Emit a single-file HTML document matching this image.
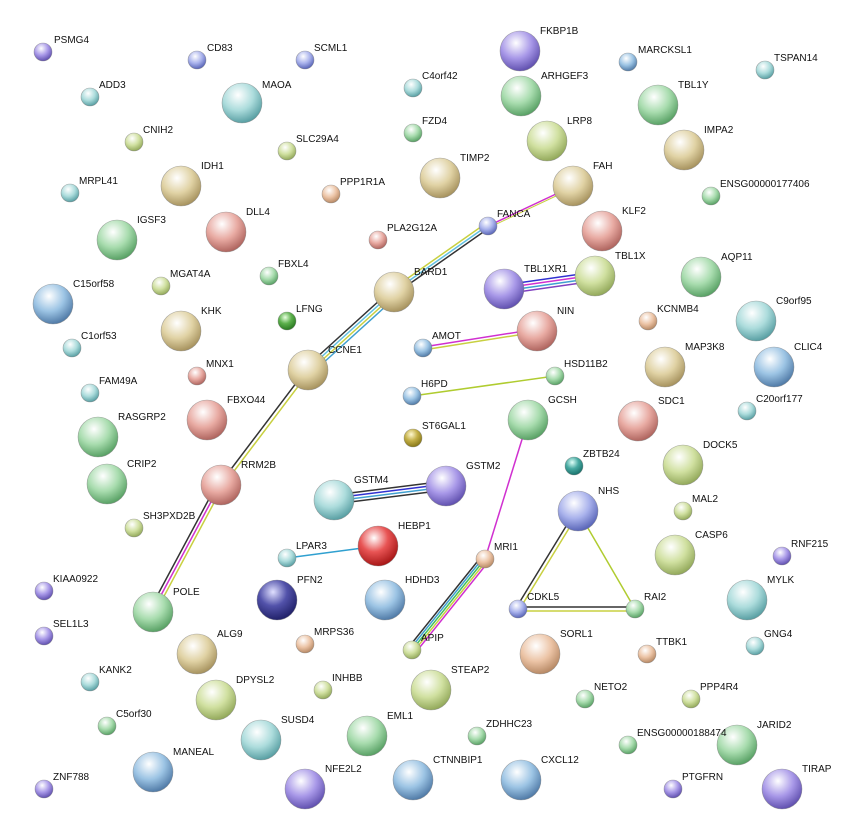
<!DOCTYPE html>
<html><head><meta charset="utf-8"><style>
html,body{margin:0;padding:0;background:#fff;}
svg{display:block;}
text{font-family:"Liberation Sans",sans-serif;font-size:10px;fill:#111;}
</style></head><body>
<svg width="852" height="835" viewBox="0 0 852 835" xmlns="http://www.w3.org/2000/svg">
<defs>
<radialGradient id="bl" cx="40%" cy="30%" r="70%"><stop offset="0" stop-color="#fff"/><stop offset="0.55" stop-color="#a9b2ec"/><stop offset="1" stop-color="#5a66b8"/></radialGradient>
<radialGradient id="gr" cx="40%" cy="30%" r="70%"><stop offset="0" stop-color="#fff"/><stop offset="0.55" stop-color="#a8dcae"/><stop offset="1" stop-color="#5aa266"/></radialGradient>
<radialGradient id="tn" cx="40%" cy="30%" r="70%"><stop offset="0" stop-color="#fff"/><stop offset="0.55" stop-color="#e0d2a4"/><stop offset="1" stop-color="#a89460"/></radialGradient>
<radialGradient id="cy" cx="40%" cy="30%" r="70%"><stop offset="0" stop-color="#fff"/><stop offset="0.55" stop-color="#acdcdc"/><stop offset="1" stop-color="#5aa0a4"/></radialGradient>
<radialGradient id="rd" cx="40%" cy="30%" r="70%"><stop offset="0" stop-color="#fff"/><stop offset="0.55" stop-color="#e8aaa2"/><stop offset="1" stop-color="#b06660"/></radialGradient>
<radialGradient id="pu" cx="40%" cy="30%" r="70%"><stop offset="0" stop-color="#fff"/><stop offset="0.55" stop-color="#a898e8"/><stop offset="1" stop-color="#6252b0"/></radialGradient>
<radialGradient id="yg" cx="40%" cy="30%" r="70%"><stop offset="0" stop-color="#fff"/><stop offset="0.55" stop-color="#d0e0a0"/><stop offset="1" stop-color="#94aa5c"/></radialGradient>
<radialGradient id="pe" cx="40%" cy="30%" r="70%"><stop offset="0" stop-color="#fff"/><stop offset="0.55" stop-color="#ecc4a6"/><stop offset="1" stop-color="#b88a66"/></radialGradient>
<radialGradient id="dg" cx="40%" cy="30%" r="70%"><stop offset="0" stop-color="#e8ffe0"/><stop offset="0.5" stop-color="#5cb04c"/><stop offset="1" stop-color="#2a7a22"/></radialGradient>
<radialGradient id="ol" cx="40%" cy="30%" r="70%"><stop offset="0" stop-color="#fff8d0"/><stop offset="0.5" stop-color="#c4b048"/><stop offset="1" stop-color="#887818"/></radialGradient>
<radialGradient id="te" cx="40%" cy="30%" r="70%"><stop offset="0" stop-color="#e0fff8"/><stop offset="0.5" stop-color="#48aaa2"/><stop offset="1" stop-color="#1a726c"/></radialGradient>
<radialGradient id="rb" cx="40%" cy="30%" r="70%"><stop offset="0" stop-color="#fff"/><stop offset="0.5" stop-color="#e85454"/><stop offset="1" stop-color="#a81818"/></radialGradient>
<radialGradient id="nv" cx="40%" cy="30%" r="70%"><stop offset="0" stop-color="#e0e0ff"/><stop offset="0.5" stop-color="#5252aa"/><stop offset="1" stop-color="#22226a"/></radialGradient>
<radialGradient id="lb" cx="40%" cy="30%" r="70%"><stop offset="0" stop-color="#fff"/><stop offset="0.55" stop-color="#9cc4e4"/><stop offset="1" stop-color="#527ca8"/></radialGradient>
</defs>

<!-- edges -->
<g fill="none" stroke-width="1.5">
<line x1="488" y1="226" x2="573" y2="186" stroke="#d030d0"/>
<line x1="488" y1="228" x2="573" y2="188" stroke="#c8d040" stroke-width="1"/>
<g>
<line x1="485" y1="224" x2="391" y2="290" stroke="#c8d040"/>
<line x1="487" y1="226" x2="393" y2="292" stroke="#60c0e0"/>
<line x1="489" y1="228" x2="395" y2="294" stroke="#333"/>
</g>
<g>
<line x1="391" y1="290" x2="305" y2="368" stroke="#333"/>
<line x1="393" y1="292" x2="307" y2="370" stroke="#60c0e0"/>
<line x1="395" y1="294" x2="309" y2="372" stroke="#c8d040"/>
<line x1="397" y1="296" x2="311" y2="374" stroke="#40a0d0"/>
</g>
<line x1="306" y1="370" x2="219" y2="485" stroke="#333"/>
<line x1="309" y1="372" x2="222" y2="487" stroke="#c8d040"/>
<line x1="217" y1="484" x2="149" y2="611" stroke="#333"/>
<line x1="220" y1="485" x2="152" y2="612" stroke="#d030d0"/>
<line x1="223" y1="486" x2="155" y2="613" stroke="#c8d040"/>
<line x1="504" y1="285" x2="595" y2="272" stroke="#3030d0"/>
<line x1="504" y1="288" x2="595" y2="275" stroke="#d030d0"/>
<line x1="504" y1="291" x2="595" y2="278" stroke="#40a0d0"/>
<line x1="504" y1="294" x2="595" y2="281" stroke="#8040c0"/>
<line x1="423" y1="347" x2="537" y2="329" stroke="#d030d0"/>
<line x1="423" y1="350" x2="537" y2="332" stroke="#c8d040"/>
<line x1="412" y1="396" x2="555" y2="376" stroke="#b0cc30"/>
<line x1="528" y1="420" x2="485" y2="559" stroke="#d030d0"/>
<line x1="481" y1="557" x2="408" y2="648" stroke="#333"/>
<line x1="483" y1="558" x2="410" y2="649" stroke="#40a0d0"/>
<line x1="485" y1="559" x2="412" y2="650" stroke="#40c060"/>
<line x1="487" y1="560" x2="414" y2="651" stroke="#c8d040"/>
<line x1="489" y1="561" x2="416" y2="652" stroke="#d030d0"/>
<line x1="334" y1="495" x2="446" y2="481" stroke="#333"/>
<line x1="334" y1="498" x2="446" y2="484" stroke="#3030d0"/>
<line x1="334" y1="501" x2="446" y2="487" stroke="#40a0d0"/>
<line x1="334" y1="504" x2="446" y2="490" stroke="#333"/>
<line x1="287" y1="558" x2="378" y2="546" stroke="#30a0d0"/>
<line x1="576" y1="510" x2="516" y2="608" stroke="#333"/>
<line x1="579" y1="512" x2="519" y2="610" stroke="#c8d040"/>
<line x1="578" y1="511" x2="635" y2="609" stroke="#b0cc30"/>
<line x1="518" y1="607" x2="635" y2="607" stroke="#333"/>
<line x1="518" y1="611" x2="635" y2="611" stroke="#c8d040"/>
</g>

<!-- nodes -->
<g stroke="#777" stroke-width="0.6" stroke-opacity="0.6">
<!-- small -->
<circle cx="43" cy="52" r="9" fill="url(#pu)"/>
<circle cx="197" cy="60" r="9" fill="url(#bl)"/>
<circle cx="305" cy="60" r="9" fill="url(#bl)"/>
<circle cx="90" cy="97" r="9" fill="url(#cy)"/>
<circle cx="413" cy="88" r="9" fill="url(#cy)"/>
<circle cx="628" cy="62" r="9" fill="url(#lb)"/>
<circle cx="765" cy="70" r="9" fill="url(#cy)"/>
<circle cx="134" cy="142" r="9" fill="url(#yg)"/>
<circle cx="287" cy="151" r="9" fill="url(#yg)"/>
<circle cx="413" cy="133" r="9" fill="url(#gr)"/>
<circle cx="70" cy="193" r="9" fill="url(#cy)"/>
<circle cx="331" cy="194" r="9" fill="url(#pe)"/>
<circle cx="711" cy="196" r="9" fill="url(#gr)"/>
<circle cx="488" cy="226" r="9" fill="url(#bl)"/>
<circle cx="378" cy="240" r="9" fill="url(#rd)"/>
<circle cx="269" cy="276" r="9" fill="url(#gr)"/>
<circle cx="161" cy="286" r="9" fill="url(#yg)"/>
<circle cx="287" cy="321" r="9" fill="url(#dg)"/>
<circle cx="72" cy="348" r="9" fill="url(#cy)"/>
<circle cx="648" cy="321" r="9" fill="url(#pe)"/>
<circle cx="423" cy="348" r="9" fill="url(#lb)"/>
<circle cx="197" cy="376" r="9" fill="url(#rd)"/>
<circle cx="555" cy="376" r="9" fill="url(#gr)"/>
<circle cx="90" cy="393" r="9" fill="url(#cy)"/>
<circle cx="412" cy="396" r="9" fill="url(#lb)"/>
<circle cx="747" cy="411" r="9" fill="url(#cy)"/>
<circle cx="413" cy="438" r="9" fill="url(#ol)"/>
<circle cx="574" cy="466" r="9" fill="url(#te)"/>
<circle cx="683" cy="511" r="9" fill="url(#yg)"/>
<circle cx="134" cy="528" r="9" fill="url(#yg)"/>
<circle cx="485" cy="559" r="9" fill="url(#pe)"/>
<circle cx="287" cy="558" r="9" fill="url(#cy)"/>
<circle cx="782" cy="556" r="9" fill="url(#pu)"/>
<circle cx="44" cy="591" r="9" fill="url(#pu)"/>
<circle cx="518" cy="609" r="9" fill="url(#bl)"/>
<circle cx="635" cy="609" r="9" fill="url(#gr)"/>
<circle cx="44" cy="636" r="9" fill="url(#pu)"/>
<circle cx="305" cy="644" r="9" fill="url(#pe)"/>
<circle cx="755" cy="646" r="9" fill="url(#cy)"/>
<circle cx="412" cy="650" r="9" fill="url(#yg)"/>
<circle cx="647" cy="654" r="9" fill="url(#pe)"/>
<circle cx="90" cy="682" r="9" fill="url(#cy)"/>
<circle cx="323" cy="690" r="9" fill="url(#yg)"/>
<circle cx="585" cy="699" r="9" fill="url(#gr)"/>
<circle cx="691" cy="699" r="9" fill="url(#yg)"/>
<circle cx="107" cy="726" r="9" fill="url(#gr)"/>
<circle cx="477" cy="736" r="9" fill="url(#gr)"/>
<circle cx="628" cy="745" r="9" fill="url(#gr)"/>
<circle cx="44" cy="789" r="9" fill="url(#pu)"/>
<circle cx="673" cy="789" r="9" fill="url(#pu)"/>
<!-- large -->
<circle cx="520" cy="51" r="20" fill="url(#pu)"/>
<circle cx="242" cy="103" r="20" fill="url(#cy)"/>
<circle cx="521" cy="96" r="20" fill="url(#gr)"/>
<circle cx="658" cy="105" r="20" fill="url(#gr)"/>
<circle cx="547" cy="141" r="20" fill="url(#yg)"/>
<circle cx="684" cy="150" r="20" fill="url(#tn)"/>
<circle cx="440" cy="178" r="20" fill="url(#tn)"/>
<circle cx="181" cy="186" r="20" fill="url(#tn)"/>
<circle cx="573" cy="186" r="20" fill="url(#tn)"/>
<circle cx="117" cy="240" r="20" fill="url(#gr)"/>
<circle cx="226" cy="232" r="20" fill="url(#rd)"/>
<circle cx="602" cy="231" r="20" fill="url(#rd)"/>
<circle cx="394" cy="292" r="20" fill="url(#tn)"/>
<circle cx="504" cy="289" r="20" fill="url(#pu)"/>
<circle cx="595" cy="276" r="20" fill="url(#yg)"/>
<circle cx="701" cy="277" r="20" fill="url(#gr)"/>
<circle cx="53" cy="304" r="20" fill="url(#lb)"/>
<circle cx="181" cy="331" r="20" fill="url(#tn)"/>
<circle cx="537" cy="331" r="20" fill="url(#rd)"/>
<circle cx="756" cy="321" r="20" fill="url(#cy)"/>
<circle cx="308" cy="370" r="20" fill="url(#tn)"/>
<circle cx="665" cy="367" r="20" fill="url(#tn)"/>
<circle cx="774" cy="367" r="20" fill="url(#lb)"/>
<circle cx="207" cy="420" r="20" fill="url(#rd)"/>
<circle cx="98" cy="437" r="20" fill="url(#gr)"/>
<circle cx="528" cy="420" r="20" fill="url(#gr)"/>
<circle cx="638" cy="421" r="20" fill="url(#rd)"/>
<circle cx="107" cy="484" r="20" fill="url(#gr)"/>
<circle cx="221" cy="485" r="20" fill="url(#rd)"/>
<circle cx="683" cy="465" r="20" fill="url(#yg)"/>
<circle cx="334" cy="500" r="20" fill="url(#cy)"/>
<circle cx="446" cy="486" r="20" fill="url(#pu)"/>
<circle cx="578" cy="511" r="20" fill="url(#bl)"/>
<circle cx="378" cy="546" r="20" fill="url(#rb)"/>
<circle cx="675" cy="555" r="20" fill="url(#yg)"/>
<circle cx="277" cy="600" r="20" fill="url(#nv)"/>
<circle cx="385" cy="600" r="20" fill="url(#lb)"/>
<circle cx="153" cy="612" r="20" fill="url(#gr)"/>
<circle cx="747" cy="600" r="20" fill="url(#cy)"/>
<circle cx="197" cy="654" r="20" fill="url(#tn)"/>
<circle cx="540" cy="654" r="20" fill="url(#pe)"/>
<circle cx="216" cy="700" r="20" fill="url(#yg)"/>
<circle cx="431" cy="690" r="20" fill="url(#yg)"/>
<circle cx="261" cy="740" r="20" fill="url(#cy)"/>
<circle cx="367" cy="736" r="20" fill="url(#gr)"/>
<circle cx="737" cy="745" r="20" fill="url(#gr)"/>
<circle cx="153" cy="772" r="20" fill="url(#lb)"/>
<circle cx="305" cy="789" r="20" fill="url(#pu)"/>
<circle cx="413" cy="780" r="20" fill="url(#lb)"/>
<circle cx="521" cy="780" r="20" fill="url(#lb)"/>
<circle cx="782" cy="789" r="20" fill="url(#pu)"/>
</g>

<!-- labels -->
<g>
<text x="54" y="43">PSMG4</text>
<text x="207" y="51">CD83</text>
<text x="314" y="51">SCML1</text>
<text x="99" y="88">ADD3</text>
<text x="422" y="79">C4orf42</text>
<text x="638" y="53">MARCKSL1</text>
<text x="774" y="61">TSPAN14</text>
<text x="143" y="133">CNIH2</text>
<text x="296" y="142">SLC29A4</text>
<text x="422" y="124">FZD4</text>
<text x="79" y="184">MRPL41</text>
<text x="340" y="185">PPP1R1A</text>
<text x="720" y="187">ENSG00000177406</text>
<text x="497" y="217">FANCA</text>
<text x="387" y="231">PLA2G12A</text>
<text x="278" y="267">FBXL4</text>
<text x="170" y="277">MGAT4A</text>
<text x="296" y="312">LFNG</text>
<text x="81" y="339">C1orf53</text>
<text x="657" y="312">KCNMB4</text>
<text x="432" y="339">AMOT</text>
<text x="206" y="367">MNX1</text>
<text x="564" y="367">HSD11B2</text>
<text x="99" y="384">FAM49A</text>
<text x="421" y="387">H6PD</text>
<text x="756" y="402">C20orf177</text>
<text x="422" y="429">ST6GAL1</text>
<text x="583" y="457">ZBTB24</text>
<text x="692" y="502">MAL2</text>
<text x="143" y="519">SH3PXD2B</text>
<text x="494" y="550">MRI1</text>
<text x="296" y="549">LPAR3</text>
<text x="791" y="547">RNF215</text>
<text x="53" y="582">KIAA0922</text>
<text x="527" y="600">CDKL5</text>
<text x="644" y="600">RAI2</text>
<text x="53" y="627">SEL1L3</text>
<text x="314" y="635">MRPS36</text>
<text x="764" y="637">GNG4</text>
<text x="421" y="641">APIP</text>
<text x="656" y="645">TTBK1</text>
<text x="99" y="673">KANK2</text>
<text x="332" y="681">INHBB</text>
<text x="594" y="690">NETO2</text>
<text x="700" y="690">PPP4R4</text>
<text x="116" y="717">C5orf30</text>
<text x="486" y="727">ZDHHC23</text>
<text x="637" y="736">ENSG00000188474</text>
<text x="53" y="780">ZNF788</text>
<text x="682" y="780">PTGFRN</text>
<text x="540" y="34">FKBP1B</text>
<text x="262" y="88">MAOA</text>
<text x="541" y="79">ARHGEF3</text>
<text x="678" y="88">TBL1Y</text>
<text x="567" y="124">LRP8</text>
<text x="704" y="133">IMPA2</text>
<text x="460" y="161">TIMP2</text>
<text x="201" y="169">IDH1</text>
<text x="593" y="169">FAH</text>
<text x="137" y="223">IGSF3</text>
<text x="246" y="215">DLL4</text>
<text x="622" y="214">KLF2</text>
<text x="414" y="275">BARD1</text>
<text x="524" y="272">TBL1XR1</text>
<text x="615" y="259">TBL1X</text>
<text x="721" y="260">AQP11</text>
<text x="73" y="287">C15orf58</text>
<text x="201" y="314">KHK</text>
<text x="557" y="314">NIN</text>
<text x="776" y="304">C9orf95</text>
<text x="328" y="353">CCNE1</text>
<text x="685" y="350">MAP3K8</text>
<text x="794" y="350">CLIC4</text>
<text x="227" y="403">FBXO44</text>
<text x="118" y="420">RASGRP2</text>
<text x="548" y="403">GCSH</text>
<text x="658" y="404">SDC1</text>
<text x="127" y="467">CRIP2</text>
<text x="241" y="468">RRM2B</text>
<text x="703" y="448">DOCK5</text>
<text x="354" y="483">GSTM4</text>
<text x="466" y="469">GSTM2</text>
<text x="598" y="494">NHS</text>
<text x="398" y="529">HEBP1</text>
<text x="695" y="538">CASP6</text>
<text x="297" y="583">PFN2</text>
<text x="405" y="583">HDHD3</text>
<text x="173" y="595">POLE</text>
<text x="767" y="583">MYLK</text>
<text x="217" y="637">ALG9</text>
<text x="560" y="637">SORL1</text>
<text x="236" y="683">DPYSL2</text>
<text x="451" y="673">STEAP2</text>
<text x="281" y="723">SUSD4</text>
<text x="387" y="719">EML1</text>
<text x="757" y="728">JARID2</text>
<text x="173" y="755">MANEAL</text>
<text x="325" y="772">NFE2L2</text>
<text x="433" y="763">CTNNBIP1</text>
<text x="541" y="763">CXCL12</text>
<text x="802" y="772">TIRAP</text>
</g>
</svg>
</body></html>
